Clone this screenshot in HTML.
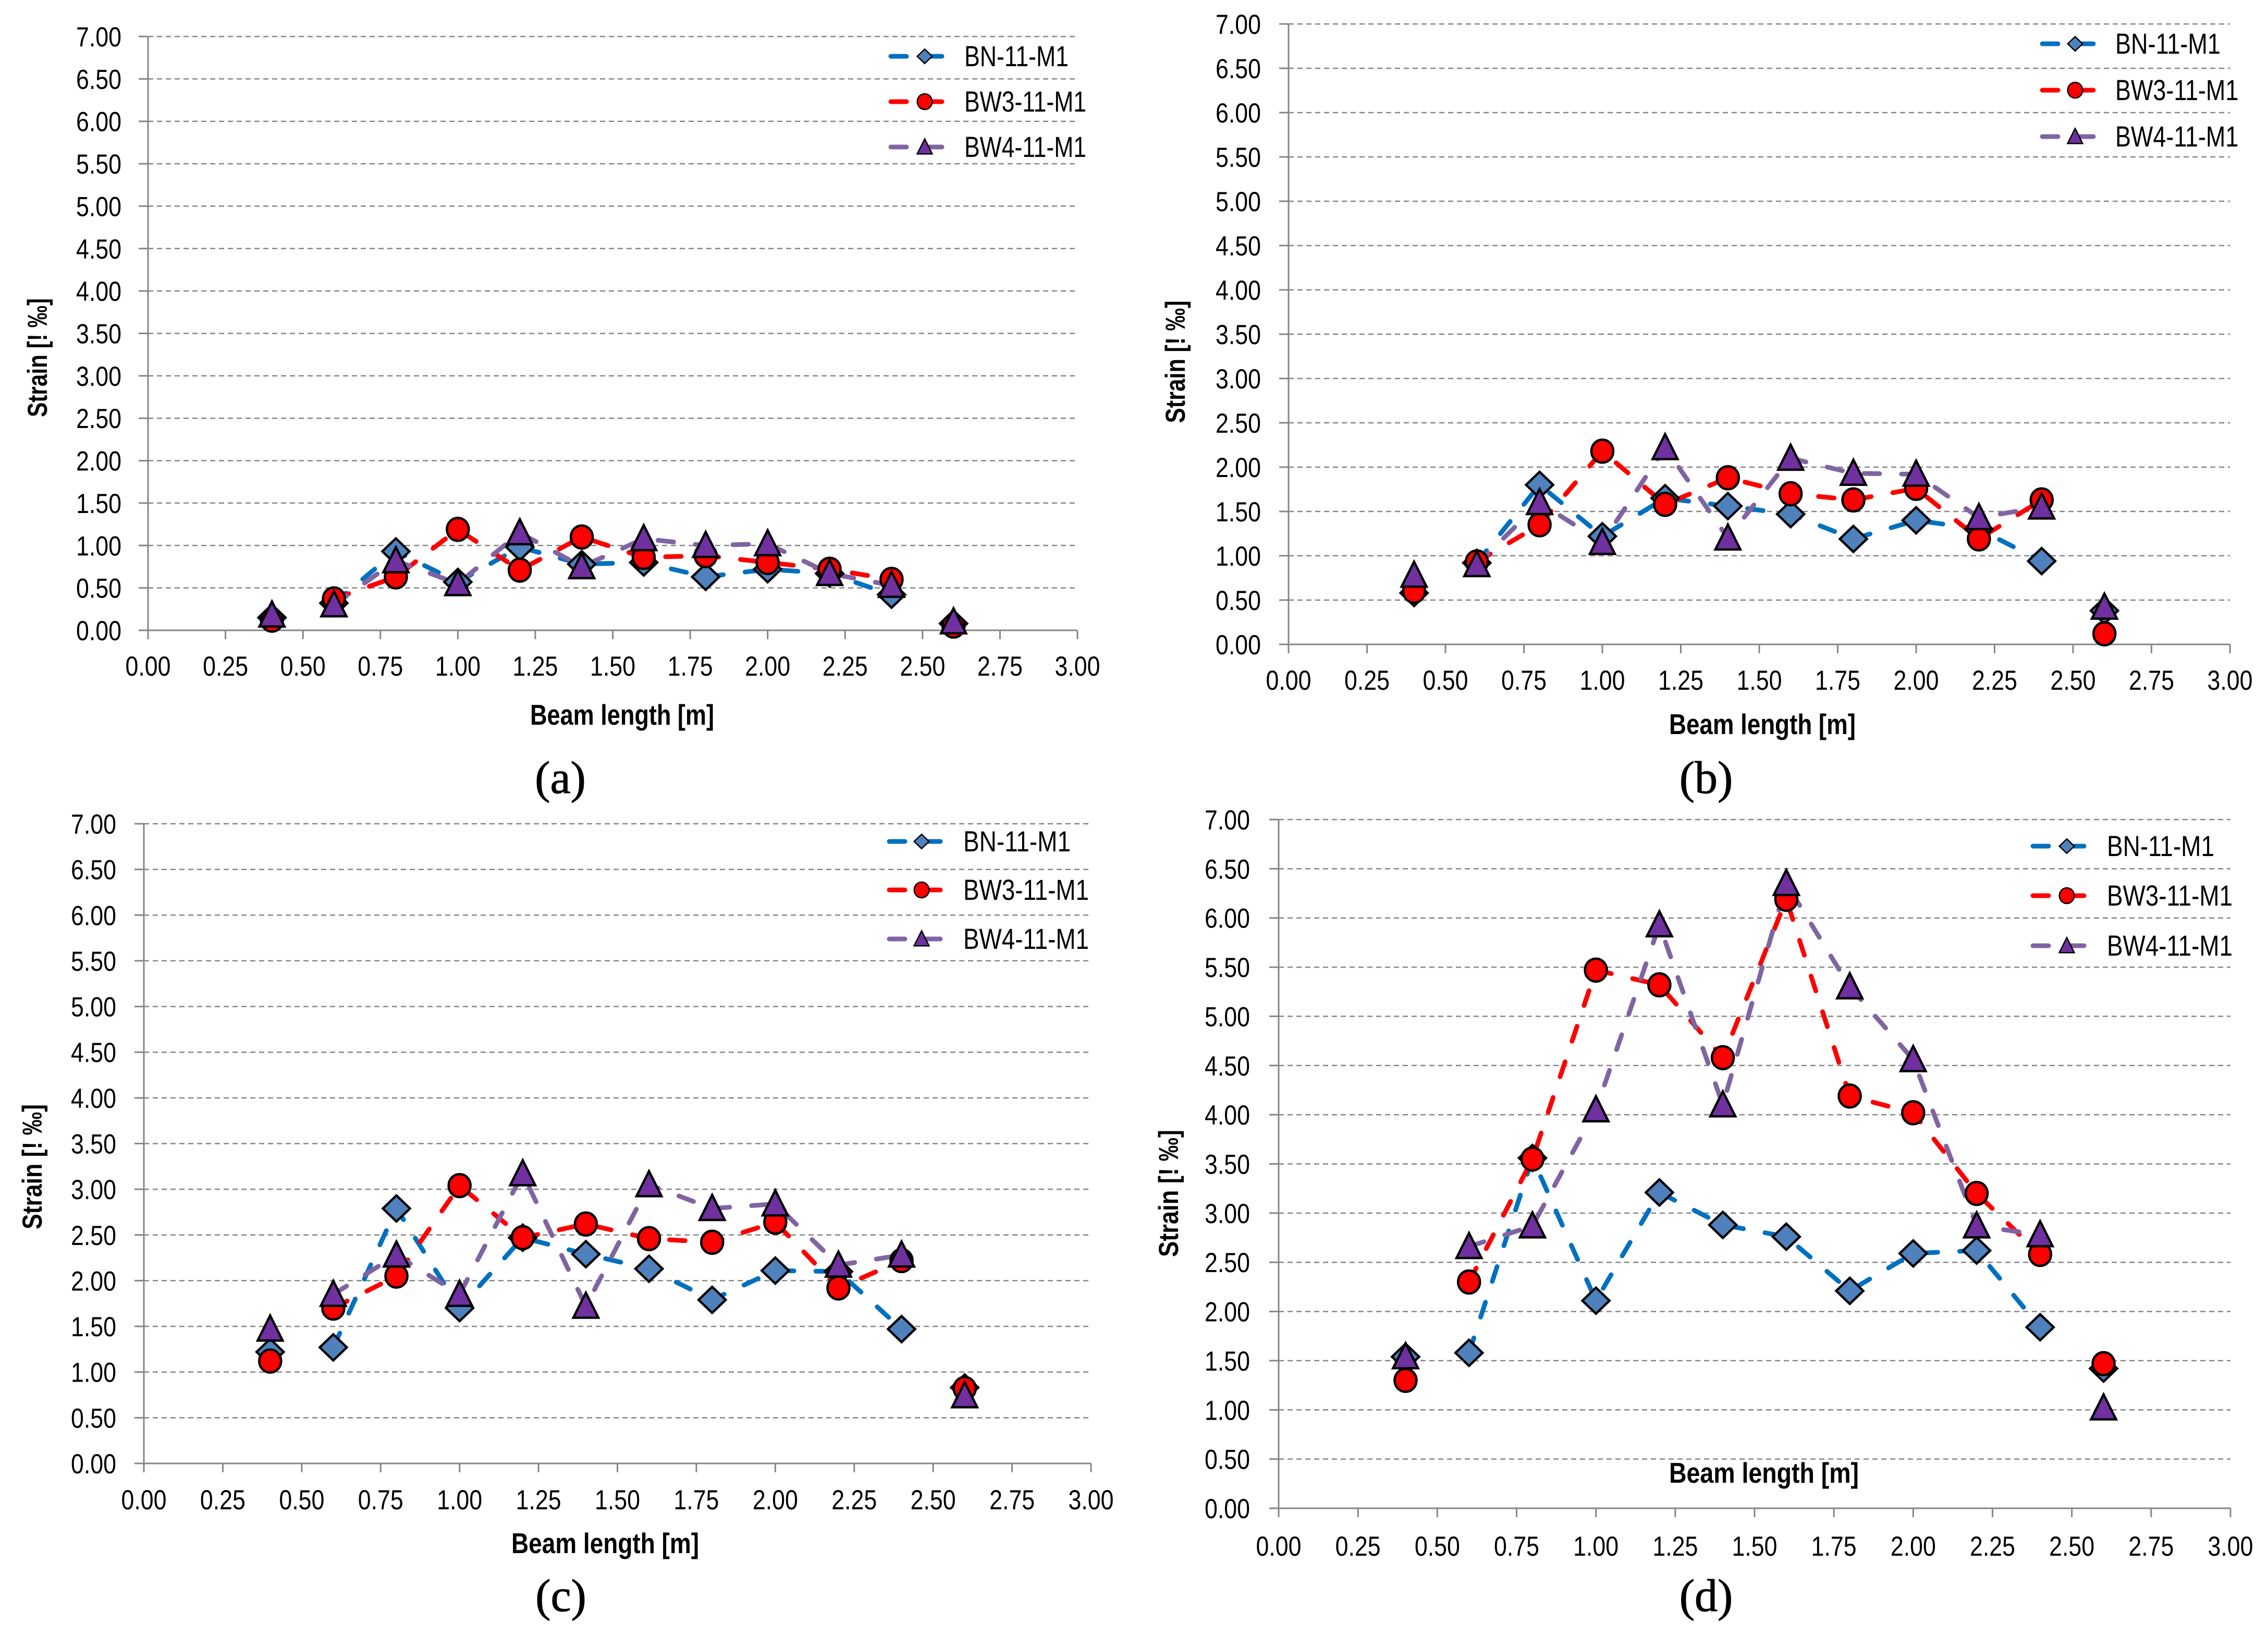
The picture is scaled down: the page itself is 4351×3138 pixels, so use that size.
<!DOCTYPE html>
<html lang="en">
<head>
<meta charset="utf-8">
<title>Strain along beam length</title>
<style>
html,body{margin:0;padding:0;background:#fff;}
svg{display:block;}
text{font-family:"Liberation Sans",sans-serif;fill:#000;}
</style>
</head>
<body>
<svg id="figure" xmlns="http://www.w3.org/2000/svg" width="4351" height="3138" viewBox="0 0 4351 3138">
<rect x="0" y="0" width="4351" height="3138" fill="#ffffff"/>
</svg>
<script>
// ---- data ----
const beamPositions = [0.4,0.6,0.8,1.0,1.2,1.4,1.6,1.8,2.0,2.2,2.4,2.6];
const yTickLabels = ['0.00','0.50','1.00','1.50','2.00','2.50','3.00','3.50','4.00','4.50','5.00','5.50','6.00','6.50','7.00'];
const xTickLabels = ['0.00','0.25','0.50','0.75','1.00','1.25','1.50','1.75','2.00','2.25','2.50','2.75','3.00'];
const seriesNames = ['BN-11-M1','BW3-11-M1','BW4-11-M1'];

const aBN  = [0.15,0.32,0.93,0.57,0.98,0.78,0.80,0.63,0.72,0.67,0.42,0.08];
const aBW3 = [0.12,0.37,0.63,1.19,0.71,1.10,0.86,0.88,0.80,0.72,0.60,0.05];
const aBW4 = [0.18,0.30,0.82,0.55,1.15,0.75,1.08,1.00,1.02,0.67,0.53,0.10];

const bBN  = [0.58,0.92,1.80,1.22,1.65,1.56,1.47,1.19,1.40,1.30,0.94,0.38];
const bBW3 = [0.60,0.93,1.35,2.18,1.58,1.88,1.70,1.63,1.76,1.19,1.63,0.12];
const bBW4 = [0.78,0.90,1.60,1.15,2.22,1.20,2.10,1.93,1.92,1.43,1.55,0.42];

const cBN  = [1.22,1.27,2.79,1.70,2.47,2.29,2.13,1.79,2.11,2.10,1.47,0.83];
const cBW3 = [1.12,1.70,2.05,3.04,2.47,2.62,2.46,2.42,2.64,1.92,2.22,0.82];
const cBW4 = [1.47,1.85,2.28,1.85,3.17,1.72,3.05,2.79,2.84,2.17,2.28,0.74];

const dBN  = [1.54,1.58,3.56,2.11,3.21,2.88,2.76,2.21,2.59,2.62,1.84,1.42];
const dBW3 = [1.30,2.30,3.55,5.47,5.32,4.58,6.19,4.19,4.02,3.20,2.58,1.47];
const dBW4 = [1.54,2.66,2.87,4.05,5.93,4.10,6.35,5.30,4.56,2.87,2.78,1.02];

// ---- layout (not data) ----
const panelA = {id:'a',values:[aBN,aBW3,aBW4],left:284,right:2067,top:70,bottom:1209,yRight:233,xBase:87,
  xTitle:{x:1017,w:353,y:1390},yTitle:{x:90,c:686,len:228},cap:{x:1075,y:1521},
  leg:{x1:1705,mk:1774,tx:1850,stretch:1.0,ys:[108,195,282]}};
const panelB = {id:'b',values:[bBN,bBW3,bBW4],left:2472,right:4278,top:46,bottom:1236,yRight:2419,xBase:87,
  xTitle:{x:3202,w:358,y:1408},yTitle:{x:2273,c:694,len:235},cap:{x:3273,y:1521},
  leg:{x1:3914,mk:3981,tx:4058,stretch:1.01,ys:[84,173,262]}};
const panelC = {id:'c',values:[cBN,cBW3,cBW4],left:276,right:2093,top:1580,bottom:2807,yRight:223,xBase:88,
  xTitle:{x:981,w:360,y:2979},yTitle:{x:80,c:2238,len:240},cap:{x:1076,y:3090},
  leg:{x1:1702,mk:1768,tx:1848,stretch:1.03,ys:[1614,1707,1801]}};
const panelD = {id:'d',values:[dBN,dBW3,dBW4],left:2453,right:4279,top:1572,bottom:2893,yRight:2398,xBase:91,
  xTitle:{x:3202,w:364,y:2844},yTitle:{x:2260,c:2289,len:244},cap:{x:3273,y:3090},
  leg:{x1:3896,mk:3965,tx:4042,stretch:1.03,ys:[1623,1718,1814]}};
const panels = [panelA,panelB,panelC,panelD];

const lineColors = ['#0070c0','#ff0000','#8064a2'];
const markerFills = ['#4f81bd','#ff0000','#7030a0'];
const markerKinds = ['diamond','circle','triangle'];
const legendMarkerScale = [0.55,0.68,0.6];
const legendTextWidths = [200,234,234];
const axisColor = '#868686';
const NS = 'http://www.w3.org/2000/svg';
const root = document.getElementById('figure');

function mk(tag, attrs, parent){
  const e = document.createElementNS(NS, tag);
  for (const k in attrs) e.setAttribute(k, attrs[k]);
  parent.appendChild(e);
  return e;
}
function markerShape(kind, cx, cy, fill, sw, size, parent){
  if (kind === 'diamond'){
    return mk('polygon',{points:(cx-26*size)+','+cy+' '+cx+','+(cy-25*size)+' '+(cx+26*size)+','+cy+' '+cx+','+(cy+25*size),fill:fill,stroke:'#000','stroke-width':sw,'stroke-linejoin':'miter'},parent);
  }
  if (kind === 'circle'){
    return mk('ellipse',{cx:cx,cy:cy,rx:21*size,ry:22*size,fill:fill,stroke:'#000','stroke-width':sw},parent);
  }
  return mk('polygon',{points:(cx-24*size)+','+(cy+22*size)+' '+cx+','+(cy-26*size)+' '+(cx+24*size)+','+(cy+22*size),fill:fill,stroke:'#000','stroke-width':sw,'stroke-linejoin':'miter'},parent);
}
function drawPanel(p){
  const xScale = v => p.left + (v/3)*(p.right-p.left);
  const yScale = v => p.bottom - (v/7)*(p.bottom-p.top);
  const g = mk('g',{},root);
  
  

  // gridlines and y ticks
  yTickLabels.forEach(function(lab){
    const v = parseFloat(lab), y = yScale(v);
    if (v > 0){
      const gl = mk('line',{x1:p.left,x2:p.right,y1:y,y2:y,stroke:axisColor,'stroke-width':2.5,'stroke-dasharray':'10 7'},g);
      
      
    }
    const t = mk('line',{x1:p.left-18,x2:p.left,y1:y,y2:y,stroke:axisColor,'stroke-width':3},g);
    
    
    const tx = mk('text',{x:p.yRight-87,y:y+19,'font-size':53,textLength:87,lengthAdjust:'spacingAndGlyphs'},g);
    tx.textContent = lab;
    
    
  });
  // x ticks
  xTickLabels.forEach(function(lab){
    const x = xScale(parseFloat(lab));
    const t = mk('line',{x1:x,x2:x,y1:p.bottom,y2:p.bottom+17,stroke:axisColor,'stroke-width':3},g);
    
    
    const tx = mk('text',{x:x-43.5,y:p.bottom+p.xBase,'font-size':53,textLength:87,lengthAdjust:'spacingAndGlyphs'},g);
    tx.textContent = lab;
    
    
  });
  // axes
  const ya = mk('line',{x1:p.left,x2:p.left,y1:p.top,y2:p.bottom,stroke:axisColor,'stroke-width':3},g);
  
  
  const xa = mk('line',{x1:p.left,x2:p.right,y1:p.bottom,y2:p.bottom,stroke:axisColor,'stroke-width':3},g);
  
  

  // series
  p.values.forEach(function(vals,si){
    const sg = mk('g',{},g);
    
    
    // lines are only drawn from the second to the second-to-last point
    let pts = '';
    for (let i = 1; i < vals.length-1; i++){
      pts += xScale(beamPositions[i]).toFixed(1)+','+yScale(vals[i]).toFixed(1)+' ';
    }
    const pl = mk('polyline',{points:pts,fill:'none',stroke:lineColors[si],'stroke-width':9,'stroke-linecap':'round','stroke-linejoin':'round','stroke-dasharray':'30 42'},sg);
    
    
  });
  p.values.forEach(function(vals,si){
    const sg = mk('g',{},g);
    
    
    vals.forEach(function(v,i){
      const m = markerShape(markerKinds[si],xScale(beamPositions[i]),yScale(v),markerFills[si],4.5,1,sg);
      
      
    });
  });

  // legend
  seriesNames.forEach(function(name,si){
    const y = p.leg.ys[si];
    const lg = mk('g',{},g);
    
    
    mk('line',{x1:p.leg.x1+4,x2:p.leg.x1+106,y1:y,y2:y,stroke:lineColors[si],'stroke-width':9,'stroke-linecap':'round','stroke-dasharray':'30 38'},lg);
    markerShape(markerKinds[si],p.leg.mk,y,markerFills[si],2.5,legendMarkerScale[si],lg);
    const t = mk('text',{x:p.leg.tx,y:y+19,'font-size':56,textLength:legendTextWidths[si]*p.leg.stretch,lengthAdjust:'spacingAndGlyphs'},lg);
    t.textContent = name;
  });

  // axis titles
  const xt = mk('text',{x:p.xTitle.x,y:p.xTitle.y,'font-size':55,'font-weight':'bold',textLength:p.xTitle.w,lengthAdjust:'spacingAndGlyphs'},g);
  xt.textContent = 'Beam length [m]';
  
  
  const yt = mk('text',{transform:'translate('+p.yTitle.x+','+(p.yTitle.c+p.yTitle.len/2)+') rotate(-90)',x:0,y:0,'font-size':53,'font-weight':'bold',textLength:p.yTitle.len,lengthAdjust:'spacingAndGlyphs'},g);
  yt.textContent = 'Strain [! \u2030]';
  
  

  // caption
  const cap = mk('text',{x:p.cap.x,y:p.cap.y,'font-size':88,'text-anchor':'middle',stroke:'#000','stroke-width':1,style:'font-family:"Liberation Serif",serif'},g);
  cap.textContent = '('+p.id+')';
  
  
}
panels.forEach(drawPanel);
</script>
</body>
</html>
